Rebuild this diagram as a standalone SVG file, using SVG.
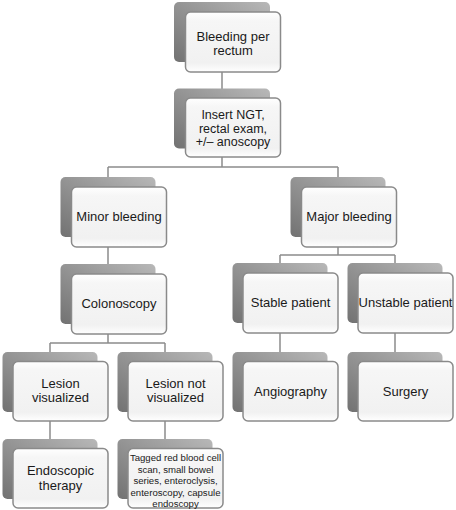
<svg xmlns="http://www.w3.org/2000/svg" width="456" height="510" viewBox="0 0 456 510">
<defs>
<linearGradient id="sh" x1="0" y1="1" x2="1" y2="0">
<stop offset="0" stop-color="#727272"/>
<stop offset="0.5" stop-color="#949494"/>
<stop offset="1" stop-color="#b8b8b8"/>
</linearGradient>
<linearGradient id="bx" x1="0" y1="0" x2="0" y2="1">
<stop offset="0" stop-color="#ffffff"/>
<stop offset="0.15" stop-color="#f6f6f6"/>
<stop offset="0.85" stop-color="#f1f1f1"/>
<stop offset="1" stop-color="#ffffff"/>
</linearGradient>
</defs>
<style>
.s{fill:url(#sh);}
.b{fill:url(#bx);stroke:#8a8a8a;stroke-width:1.5;}
.t{font-family:"Liberation Sans",Arial,sans-serif;font-size:13px;fill:#1a1a1a;text-anchor:middle;}
.md{font-size:12.5px;}
.sm{font-size:9.6px;}
.c{stroke:#8c8c8c;stroke-width:1.5;fill:none;}
</style>
<rect width="456" height="510" fill="#ffffff"/>
<g id="connectors">
<path class="c" d="M222 72V89M222 157V167M108 167H338M108 167V177M338 167V177"/>
<path class="c" d="M108 247V264M338 247V255M280 255H395M280 255V263M395 255V263"/>
<path class="c" d="M108 334V343M50 343H165M50 343V352M165 343V352M280 333V352M395 333V352"/>
<path class="c" d="M50 421V439M165 421V439"/>
</g>
<g id="n1"><rect class="s" x="174" y="2" width="96" height="60" rx="5"/><rect class="b" x="185.5" y="12" width="95" height="60" rx="5"/>
<text class="t" x="233" y="41">Bleeding per</text><text class="t" x="233" y="55">rectum</text></g>
<g id="n2"><rect class="s" x="174" y="88.5" width="96" height="60" rx="5"/><rect class="b" x="185.5" y="98" width="95" height="59" rx="5"/>
<text class="t md" x="233" y="119">Insert NGT,</text><text class="t md" x="233" y="132.5">rectal exam,</text><text class="t md" x="233" y="146">+/– anoscopy</text></g>
<g id="n3"><rect class="s" x="60.5" y="177" width="95" height="60" rx="5"/><rect class="b" x="71.5" y="187" width="95" height="60" rx="5"/>
<text class="t" x="119" y="221">Minor bleeding</text></g>
<g id="n4"><rect class="s" x="60.5" y="264" width="95" height="60" rx="5"/><rect class="b" x="71.5" y="274" width="95" height="60" rx="5"/>
<text class="t" x="119" y="308">Colonoscopy</text></g>
<g id="n5"><rect class="s" x="290.5" y="177" width="95" height="60" rx="5"/><rect class="b" x="301.5" y="187" width="95" height="60" rx="5"/>
<text class="t" x="349" y="221">Major bleeding</text></g>
<g id="n6"><rect class="s" x="232.5" y="263" width="95" height="60" rx="5"/><rect class="b" x="243" y="273" width="95" height="60" rx="5"/>
<text class="t" x="290.5" y="307">Stable patient</text></g>
<g id="n7"><rect class="s" x="347.5" y="263" width="95" height="60" rx="5"/><rect class="b" x="358" y="273" width="95" height="60" rx="5"/>
<text class="t" x="405.5" y="307">Unstable patient</text></g>
<g id="n8"><rect class="s" x="2.5" y="352" width="95" height="60" rx="5"/><rect class="b" x="13" y="361.5" width="95" height="59.5" rx="5"/>
<text class="t" x="60.5" y="388">Lesion</text><text class="t" x="60.5" y="402">visualized</text></g>
<g id="n9"><rect class="s" x="117.5" y="352" width="95" height="60" rx="5"/><rect class="b" x="128" y="361.5" width="95" height="59.5" rx="5"/>
<text class="t" x="175.5" y="388">Lesion not</text><text class="t" x="175.5" y="402">visualized</text></g>
<g id="n10"><rect class="s" x="232.5" y="352" width="95" height="60" rx="5"/><rect class="b" x="243" y="361.5" width="95" height="59.5" rx="5"/>
<text class="t" x="290.5" y="396">Angiography</text></g>
<g id="n11"><rect class="s" x="347.5" y="352" width="95" height="60" rx="5"/><rect class="b" x="358" y="361.5" width="95" height="59.5" rx="5"/>
<text class="t" x="405.5" y="396">Surgery</text></g>
<g id="n12"><rect class="s" x="2.5" y="439" width="95" height="60" rx="5"/><rect class="b" x="13" y="448.5" width="95" height="59.5" rx="5"/>
<text class="t" x="60.5" y="475">Endoscopic</text><text class="t" x="60.5" y="490">therapy</text></g>
<g id="n13"><rect class="s" x="117.5" y="439" width="95" height="60" rx="5"/><rect class="b" x="128" y="448.5" width="95" height="59.5" rx="5"/>
<text class="t sm" x="175.5" y="461">Tagged red blood cell</text><text class="t sm" x="175.5" y="472.5">scan, small bowel</text><text class="t sm" x="175.5" y="484">series, enteroclysis,</text><text class="t sm" x="175.5" y="495.5">enteroscopy, capsule</text><text class="t sm" x="175.5" y="507">endoscopy</text></g>
</svg>
